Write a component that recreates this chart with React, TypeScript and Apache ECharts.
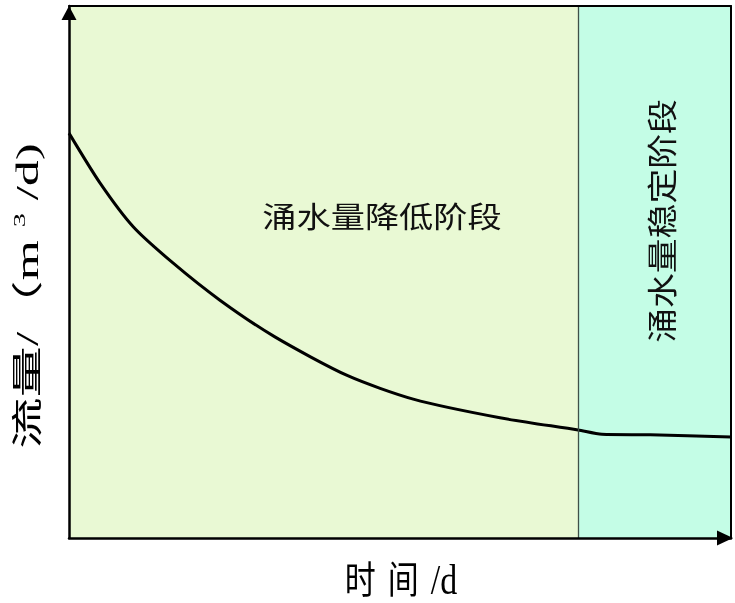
import React, { useEffect, useRef } from "react";
import * as echarts from "echarts";

// time (arbitrary units, 0..100) and flow (arbitrary units, 0..100)
const timeValues = [0, 4.7, 9.7, 15.7, 22.8, 31.1, 42.1, 52.0, 65.1, 76.9, 80.5, 87.8, 100];
const flowValues = [76.1, 66.7, 58.5, 51.7, 44.7, 37.8, 30.5, 26.1, 22.6, 20.3, 19.5, 19.4, 19.0];
const stageBoundary = 77;
const stageNames = ["涌水量降低阶段", "涌水量稳定阶段"];
const xAxisTitle = ["时", "间", "/d"];
const yAxisTitle = ["流量/（m ", "3", " /d)"];

const CJK = '"Noto Sans CJK SC"';
const SERIF = '"Liberation Serif", "Noto Sans CJK SC"';

export default function App() {
  const ref = useRef<HTMLDivElement>(null);
  useEffect(() => {
    document.body.style.margin = "0";
    const chart = echarts.init(ref.current!, null, { renderer: "svg" });
    const data = timeValues.map((t, i) => [t, flowValues[i]]);
    const plainAxis = {
      type: "value" as const,
      min: 0,
      max: 100,
      axisTick: { show: false },
      axisLabel: { show: false },
      splitLine: { show: false },
      z: 10,
    };
    chart.setOption({
      animation: false,
      grid: { left: 69, right: 4, top: 6, bottom: 65 },
      xAxis: [
        {
          ...plainAxis,
          position: "bottom",
          axisLine: {
            show: true,
            onZero: false,
            lineStyle: { color: "#000", width: 2.5 },
            symbol: ["none", "triangle"],
            symbolSize: [15, 16],
            symbolOffset: [0, -6],
          },
        },
        {
          ...plainAxis,
          position: "top",
          axisLine: { show: true, onZero: false, lineStyle: { color: "#000", width: 2 } },
        },
      ],
      yAxis: [
        {
          ...plainAxis,
          position: "left",
          axisLine: {
            show: true,
            onZero: false,
            lineStyle: { color: "#000", width: 2.5 },
            symbol: ["none", "triangle"],
            symbolSize: [15, 14],
            symbolOffset: [0, -7],
          },
        },
        {
          ...plainAxis,
          position: "right",
          axisLine: { show: true, onZero: false, lineStyle: { color: "#000", width: 2 } },
        },
      ],
      series: [
        {
          type: "line",
          xAxisIndex: 0,
          yAxisIndex: 0,
          data,
          smooth: 0.25,
          showSymbol: false,
          lineStyle: { color: "#000", width: 3 },
          markArea: {
            silent: true,
            data: [
              [
                { xAxis: 0, itemStyle: { color: "#E9F9D4", opacity: 1 } },
                { xAxis: stageBoundary },
              ],
              [
                { xAxis: stageBoundary, itemStyle: { color: "#C4FDE6", opacity: 1 } },
                { xAxis: 100 },
              ],
            ],
          },
          markLine: {
            silent: true,
            symbol: ["none", "none"],
            label: { show: false },
            lineStyle: { color: "#3f5048", width: 1.3, type: "solid" },
            data: [{ xAxis: stageBoundary }],
          },
        },
      ],
      graphic: [
        {
          type: "text",
          x: 382,
          y: 215,
          scaleX: 1.18,
          z: 100,
          style: {
            text: stageNames[0],
            fontSize: 29,
            fontFamily: CJK,
            fill: "#111",
            align: "center",
            verticalAlign: "middle",
          },
        },
        {
          type: "text",
          x: 660,
          y: 221,
          rotation: Math.PI / 2,
          scaleX: 1.16,
          z: 100,
          style: {
            text: stageNames[1],
            fontSize: 30,
            fontFamily: CJK,
            fill: "#111",
            align: "center",
            verticalAlign: "middle",
          },
        },
        {
          type: "text",
          x: 401,
          y: 580,
          scaleY: 1.22,
          z: 100,
          style: {
            text: `{c|${xAxisTitle[0]}}{c|${xAxisTitle[1]}}{l|${xAxisTitle[2]}}`,
            align: "center",
            verticalAlign: "middle",
            fill: "#000",
            rich: {
              c: { fontSize: 31, fontFamily: SERIF, fill: "#000", padding: [0, 12, 0, 0] },
              l: { fontSize: 34, fontFamily: SERIF, fill: "#000" },
            },
          },
        },
        {
          type: "text",
          x: 27,
          y: 296,
          rotation: Math.PI / 2,
          scaleX: 1.66,
          z: 100,
          style: {
            text: `{a|${yAxisTitle[0]}}{s|${yAxisTitle[1]}}{a|${yAxisTitle[2]}}`,
            align: "center",
            verticalAlign: "middle",
            fill: "#000",
            rich: {
              a: { fontSize: 31, fontFamily: SERIF, fill: "#000", lineHeight: 32 },
              s: { fontSize: 17, fontFamily: SERIF, fill: "#000", verticalAlign: "top", lineHeight: 32 },
            },
          },
        },
      ],
    });
    return () => chart.dispose();
  }, []);
  return (
    <div
      ref={ref}
      style={{ position: "fixed", left: 0, top: 0, width: 735, height: 603 }}
    />
  );
}
